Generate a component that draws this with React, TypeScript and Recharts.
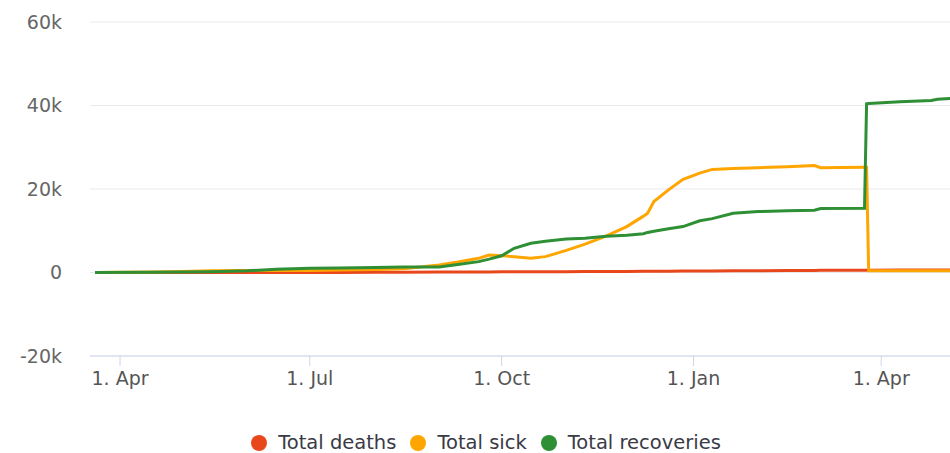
import { LineChart, Line, XAxis, YAxis, CartesianGrid, Legend } from "recharts";

const dates = [
    "2020-03-20", "2020-04-15", "2020-05-01", "2020-05-15", "2020-06-01",
    "2020-06-15", "2020-07-01", "2020-07-15", "2020-08-01", "2020-08-15",
    "2020-09-01", "2020-09-10", "2020-09-20", "2020-09-25", "2020-10-01",
    "2020-10-07", "2020-10-15", "2020-10-22", "2020-11-01", "2020-11-10",
    "2020-11-20", "2020-11-30", "2020-12-08", "2020-12-10", "2020-12-13",
    "2020-12-20", "2020-12-27", "2021-01-04", "2021-01-10", "2021-01-20",
    "2021-02-01", "2021-02-15", "2021-02-28", "2021-03-03", "2021-03-24",
    "2021-03-25", "2021-03-26", "2021-04-10", "2021-04-25", "2021-04-28",
    "2021-05-05",
];
const deaths = [
    0, 0, 5, 10, 15,
    20, 25, 30, 50, 70,
    100, 110, 130, 140, 150,
    160, 170, 180, 200, 220,
    240, 260, 280, 290, 300,
    320, 340, 360, 380, 400,
    430, 460, 500, 510, 550,
    560, 560, 580, 600, 600,
    610,
];
const sick = [
    0, 100, 250, 400, 500,
    500, 500, 600, 700, 900,
    1800, 2500, 3400, 4200, 4000,
    3800, 3400, 3800, 5300, 6800,
    8700, 11000, 13500, 14200, 17000,
    19800, 22300, 23800, 24700, 24900,
    25100, 25300, 25600, 25100, 25200,
    25200, 400, 400, 420, 420,
    420,
];
const recoveries = [
    0, 50, 100, 200, 400,
    800, 1000, 1100, 1200, 1300,
    1300, 1900, 2600, 3200, 4000,
    5800, 7000, 7500, 8000, 8200,
    8700, 8900, 9300, 9600, 9900,
    10500, 11000, 12400, 12900, 14200,
    14600, 14800, 14900, 15300, 15400,
    40400, 40500, 40900, 41200, 41500,
    41700,
];

const tickDates = ["2020-04-01", "2020-07-01", "2020-10-01", "2021-01-01", "2021-04-01"];
const tickLabels = ["1. Apr", "1. Jul", "1. Oct", "1. Jan", "1. Apr"];
const yTicks = [-20000, 0, 20000, 40000, 60000];

const seriesNames = ["Total deaths", "Total sick", "Total recoveries"];
const seriesColors = ["#e8471c", "#ffa500", "#2f8f35"];

const origin = Date.parse("2020-04-01");
const dayOf = (s: string) => (Date.parse(s) - origin) / 86400000;

const tickDays = tickDates.map(dayOf);

const data = dates.map((d, i) => ({
    day: dayOf(d),
    deaths: deaths[i],
    sick: sick[i],
    recoveries: recoveries[i],
}));

const formatY = (v: number) => (v === 0 ? "0" : `${v / 1000}k`);
const formatX = (v: number) => {
    const i = tickDays.indexOf(v);
    return i >= 0 ? tickLabels[i] : "";
};

const font = "'DejaVu Sans', Verdana, sans-serif";

function LegendBox() {
    return (
        <div
            style={{
                display: "flex",
                justifyContent: "center",
                alignItems: "center",
                paddingLeft: 36,
                height: 22,
                lineHeight: "22px",
                position: "relative",
                top: 1,
                fontFamily: font,
                fontSize: 19.5,
                color: "#3a3a45",
                whiteSpace: "nowrap",
            }}
        >
            {seriesNames.map((name, i) => (
                <div key={name} style={{ display: "flex", alignItems: "center", marginRight: 14 }}>
                    <span
                        style={{
                            width: 16,
                            height: 16,
                            borderRadius: "50%",
                            background: seriesColors[i],
                            display: "inline-block",
                            marginRight: 11,
                        }}
                    />
                    <span>{name}</span>
                </div>
            ))}
        </div>
    );
}

export default function App() {
    return (
        <div style={{ position: "absolute", left: 0, top: 0, width: 950, height: 453, background: "#fff" }}>
            <LineChart
                width={950}
                height={453}
                data={data}
                margin={{ top: 22, right: 0, left: 0, bottom: 0 }}
            >
                <CartesianGrid stroke="#e9e9ef" vertical={false} />
                <XAxis
                    dataKey="day"
                    type="number"
                    domain={[-14.4, 398]}
                    allowDataOverflow
                    ticks={tickDays}
                    tickFormatter={formatX}
                    height={75}
                    axisLine={{ stroke: "#ccd6eb" }}
                    tickLine={{ stroke: "#ccd6eb" }}
                    tickSize={10}
                    tickMargin={6}
                    tick={{ fill: "#555", fontSize: 19, fontFamily: font }}
                />
                <YAxis
                    domain={[-20000, 60000]}
                    ticks={yTicks}
                    tickFormatter={formatY}
                    width={90}
                    axisLine={false}
                    tickLine={false}
                    tickSize={0}
                    tickMargin={28}
                    tick={{ fill: "#666", fontSize: 19, fontFamily: font }}
                />
                <Legend
                    verticalAlign="bottom"
                    align="center"
                    wrapperStyle={{ height: 22 }}
                    content={() => <LegendBox />}
                />
                <Line
                    type="linear"
                    dataKey="deaths"
                    name={seriesNames[0]}
                    stroke={seriesColors[0]}
                    strokeWidth={3}
                    dot={false}
                    isAnimationActive={false}
                />
                <Line
                    type="linear"
                    dataKey="sick"
                    name={seriesNames[1]}
                    stroke={seriesColors[1]}
                    strokeWidth={3}
                    dot={false}
                    isAnimationActive={false}
                />
                <Line
                    type="linear"
                    dataKey="recoveries"
                    name={seriesNames[2]}
                    stroke={seriesColors[2]}
                    strokeWidth={3}
                    dot={false}
                    isAnimationActive={false}
                />
            </LineChart>
        </div>
    );
}
